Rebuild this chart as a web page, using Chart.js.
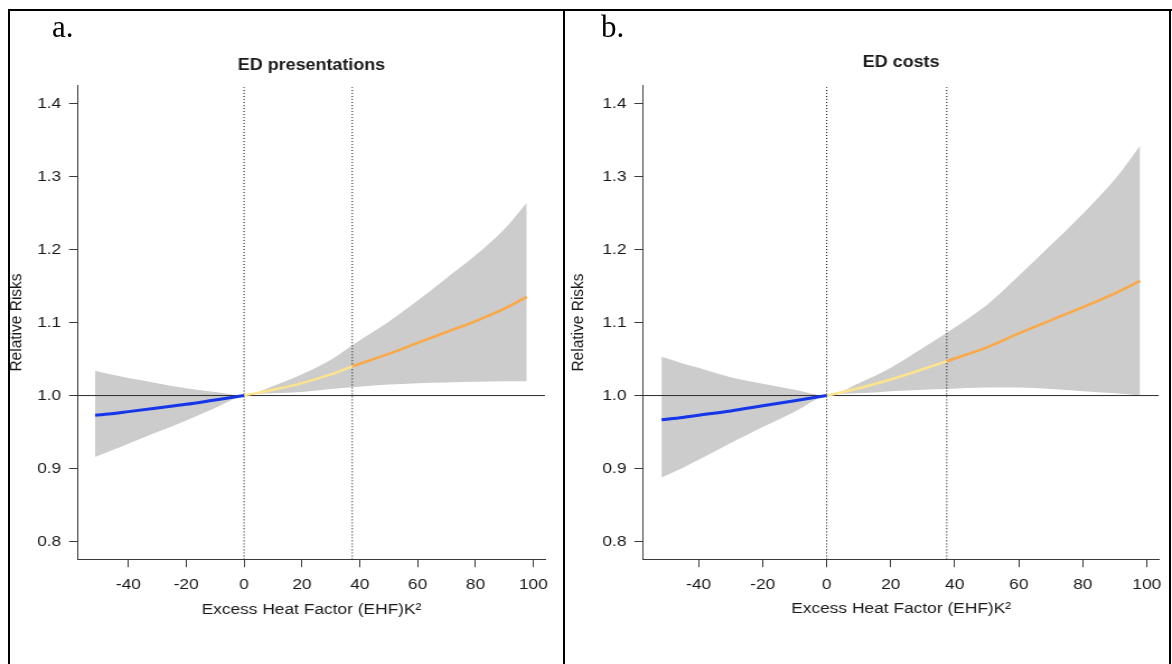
<!DOCTYPE html>
<html>
<head>
<meta charset="utf-8">
<script src="https://cdn.jsdelivr.net/npm/chart.js@4.4.1/dist/chart.umd.min.js"></script>
<style>
  html, body { margin: 0; padding: 0; background: #fff; }
  #fig { position: relative; width: 1172px; height: 664px; overflow: hidden; background: #fff; }
  /* the plots use a slightly wide aspect: drawn narrower, then stretched horizontally */
  #fig canvas { position: absolute; top: 0; transform-origin: 0 0; }
  .rule { position: absolute; background: #000; }
  .tag { position: absolute; font-family: "Liberation Serif", "DejaVu Serif", serif; font-size: 31px; line-height: 1; color: #000; }
</style>
</head>
<body>
<div id="fig">
  <canvas id="chartA" width="504" height="664" style="left:0px;transform:scaleX(1.1190)"></canvas>
  <canvas id="chartB" width="543" height="664" style="left:564px;transform:scaleX(1.1197)"></canvas>
  <div class="rule" style="left:8px;top:9px;width:1164px;height:2px"></div>
  <div class="rule" style="left:8px;top:9px;width:2px;height:655px"></div>
  <div class="rule" style="left:563px;top:9px;width:2px;height:655px"></div>
  <div class="rule" style="left:1169px;top:9px;width:2px;height:655px"></div>
  <div class="tag" style="left:52px;top:11px">a.</div>
  <div class="tag" style="left:601px;top:11px">b.</div>
</div>
<script>
// Tick values shared by both panels
const X_TICKS = [-40, -20, 0, 20, 40, 60, 80, 100];
const Y_TICKS = [0.8, 0.9, 1.0, 1.1, 1.2, 1.3, 1.4];
const RR_REF = 1.0;

// a. ED presentations: EHF values, relative risk and 95% CI bounds
const EHF_A = [-51.5, -45, -40, -30, -20, -10, 0, 10, 20, 30, 37.4, 50, 60, 70, 80, 90, 97.7];
const RR_A  = [0.973, 0.9755, 0.978, 0.983, 0.988, 0.994, 1.000, 1.008, 1.017, 1.029, 1.040, 1.057, 1.072, 1.087, 1.102, 1.119, 1.135];
const LO_A  = [0.916, 0.926, 0.934, 0.950, 0.966, 0.983, 1.000, 1.003, 1.005, 1.009, 1.0115, 1.015, 1.017, 1.018, 1.019, 1.0195, 1.0196];
const UP_A  = [1.034, 1.028, 1.024, 1.017, 1.010, 1.005, 1.000, 1.013, 1.029, 1.049, 1.069, 1.101, 1.130, 1.161, 1.192, 1.228, 1.264];
const CUT_A = 37.4;

// b. ED costs
const EHF_B = [-51.6, -45, -40, -30, -20, -10, 0, 10, 20, 30, 37.5, 50, 60, 70, 80, 90, 97.9];
const RR_B  = [0.967, 0.970, 0.973, 0.979, 0.986, 0.993, 1.000, 1.010, 1.022, 1.036, 1.047, 1.066, 1.085, 1.103, 1.121, 1.140, 1.157];
const LO_B  = [0.888, 0.901, 0.912, 0.935, 0.957, 0.978, 1.000, 1.003, 1.006, 1.008, 1.009, 1.011, 1.011, 1.009, 1.006, 1.003, 1.000];
const UP_B  = [1.053, 1.044, 1.038, 1.025, 1.016, 1.008, 1.000, 1.017, 1.038, 1.065, 1.086, 1.124, 1.164, 1.206, 1.249, 1.296, 1.342];
const CUT_B = 37.5;

// Axis extents (R-style 4% expansion around the data)
const X_RANGE_A = [-57.4, 104.0];
const X_RANGE_B = [-57.3, 103.8];
const Y_RANGE = [0.776, 1.424];

const FONT = '"Liberation Sans", Arial, sans-serif';
const COL = {
  band: '#cccccc', cold: '#1536e8', mild: '#fce48c', hot: '#fca846',
  axis: '#3a3a3a', ref: '#2a2a2a', text: '#1a1a1a'
};

function toPoints(xs, ys) { return xs.map((x, i) => ({ x: x, y: ys[i] })); }
function slice(xs, ys, lo, hi) {
  const out = [];
  xs.forEach((x, i) => { if (x >= lo && x <= hi) out.push({ x: x, y: ys[i] }); });
  return out;
}

function makePanel(id, p) {
  const dotted = (x) => ({
    data: [{ x: x, y: Y_RANGE[0] }, { x: x, y: Y_RANGE[1] }],
    borderColor: '#000', borderWidth: 1, borderDash: [1, 2], order: 3, tension: 0
  });
  new Chart(document.getElementById(id), {
    type: 'line',
    data: {
      datasets: [
        { data: slice(p.x, p.rr, -Infinity, 0), borderColor: COL.cold, borderWidth: 3, order: 1 },
        { data: slice(p.x, p.rr, 0, p.cut), borderColor: COL.mild, borderWidth: 2.5, order: 1 },
        { data: slice(p.x, p.rr, p.cut, Infinity), borderColor: COL.hot, borderWidth: 2.5, order: 1 },
        dotted(0),
        dotted(p.cut),
        { data: [{ x: p.xr[0], y: RR_REF }, { x: p.xr[1], y: RR_REF }], borderColor: COL.ref, borderWidth: 1, order: 4, tension: 0 },
        { data: toPoints(p.x, p.up), borderColor: 'rgba(0,0,0,0)', borderWidth: 0, backgroundColor: COL.band, fill: '+1', order: 5 },
        { data: toPoints(p.x, p.lo), borderColor: 'rgba(0,0,0,0)', borderWidth: 0, fill: false, order: 5 }
      ]
    },
    options: {
      responsive: false, animation: false, devicePixelRatio: 1,
      layout: { padding: { left: 0, right: p.padR, top: 0, bottom: p.padB } },
      elements: { point: { radius: 0, hoverRadius: 0 }, line: { cubicInterpolationMode: 'monotone' } },
      events: [],
      plugins: {
        legend: { display: false }, tooltip: { enabled: false },
        title: {
          display: true, fullSize: false, text: p.title, color: COL.text,
          font: { family: FONT, size: 16, weight: 'bold' },
          padding: { top: p.titleTop, bottom: p.titleBottom }
        }
      },
      scales: {
        x: {
          type: 'linear', min: p.xr[0], max: p.xr[1],
          afterBuildTicks: (s) => { s.ticks = X_TICKS.map(v => ({ value: v })); },
          afterFit: (s) => { s.height = p.xH; },
          ticks: { color: COL.text, font: { family: FONT, size: 15.5 }, padding: 8, maxRotation: 0, autoSkip: false, callback: (v) => String(v) },
          grid: { drawOnChartArea: false, drawTicks: true, tickLength: 8, color: COL.axis, lineWidth: 1 },
          border: { display: true, color: COL.axis, width: 1 },
          title: { display: true, text: 'Excess Heat Factor (EHF)K\u00B2', color: COL.text, font: { family: FONT, size: 15.5 }, padding: { top: 0, bottom: p.xTitlePad } }
        },
        y: {
          type: 'linear', min: Y_RANGE[0], max: Y_RANGE[1],
          afterBuildTicks: (s) => { s.ticks = Y_TICKS.map(v => ({ value: v })); },
          afterFit: (s) => { s.width = p.yW; },
          ticks: { color: COL.text, font: { family: FONT, size: 15.5 }, padding: 7, autoSkip: false, callback: (v) => Number(v).toFixed(1) },
          grid: { drawOnChartArea: false, drawTicks: true, tickLength: 8, color: COL.axis, lineWidth: 1 },
          border: { display: true, color: COL.axis, width: 1 },
          title: { display: true, text: 'Relative Risks', color: COL.text, font: { family: FONT, size: 15.5 }, padding: { top: p.yTitlePad, bottom: 0 } }
        }
      }
    }
  });
}

makePanel('chartA', {
  title: 'ED presentations', x: EHF_A, rr: RR_A, lo: LO_A, up: UP_A, cut: CUT_A, xr: X_RANGE_A,
  padR: 17, padB: 44.8, xH: 60, yW: 69.7, titleTop: 55.6, titleBottom: 11, xTitlePad: 0.5, yTitlePad: 5.9
});
makePanel('chartB', {
  title: 'ED costs', x: EHF_B, rr: RR_B, lo: LO_B, up: UP_B, cut: CUT_B, xr: X_RANGE_B,
  padR: 11.6, padB: 44.8, xH: 60, yW: 70.8, titleTop: 52.6, titleBottom: 14, xTitlePad: 1.2, yTitlePad: 3.2
});
</script>
</body>
</html>
